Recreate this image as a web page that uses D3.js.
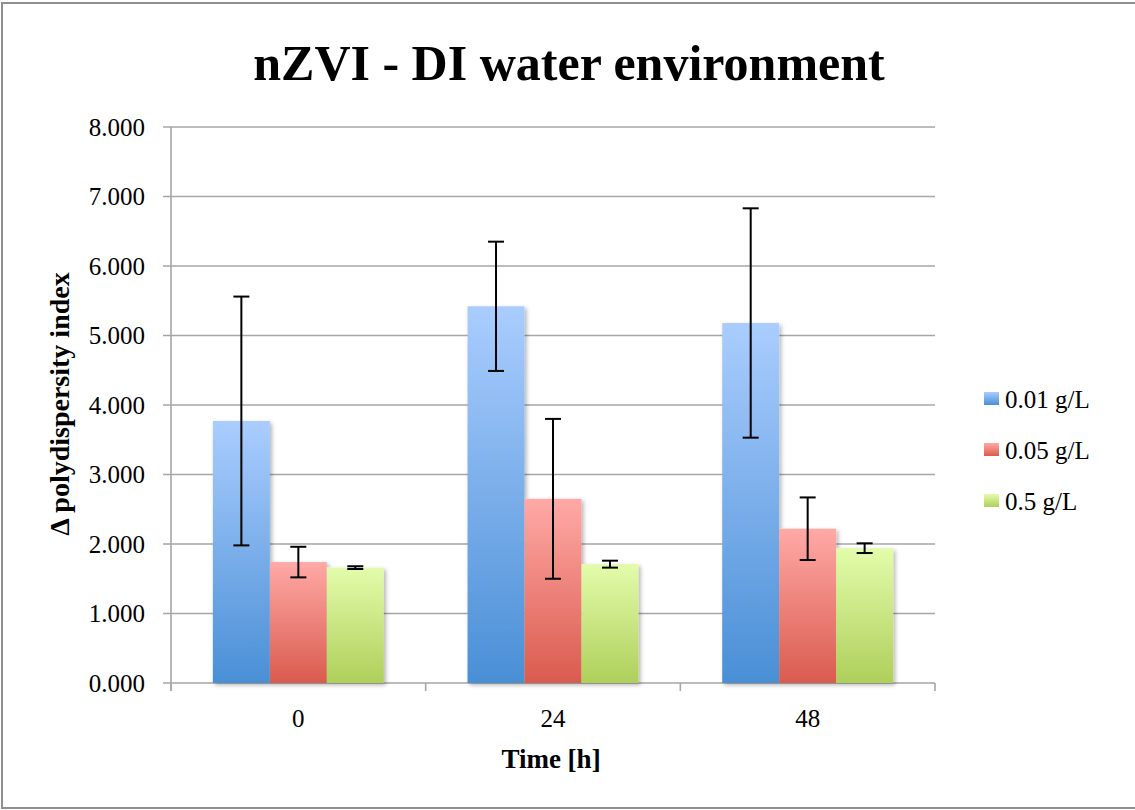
<!DOCTYPE html>
<html><head><meta charset="utf-8">
<script src="https://cdn.jsdelivr.net/npm/d3@7"></script>
<style>body{margin:0;background:#fff}svg{display:block}</style>
</head><body>
<svg id="chart" width="1135" height="810"></svg>
<script>
const categories = ["0", "24", "48"];
const seriesNames = ["0.01 g/L", "0.05 g/L", "0.5 g/L"];
const values01 = [3.77, 5.42, 5.18];
const values05 = [1.74, 2.65, 2.22];
const values5  = [1.66, 1.71, 1.94];
const err01 = [1.79, 0.93, 1.65];
const err05 = [0.22, 1.15, 0.45];
const err5  = [0.02, 0.05, 0.07];
const yTicks = [0, 1, 2, 3, 4, 5, 6, 7, 8];
const title = "nZVI - DI water environment";
const xTitle = "Time [h]";
const yTitle = "Δ polydispersity index";

(function () {
const seriesValues = [values01, values05, values5];
const seriesErrors = [err01, err05, err5];
const grads = [["#aacdfe", "#4a8fd6"], ["#ffa9a6", "#da5b4e"], ["#e3fcab", "#afcf5b"]];

const svg = d3.select("#chart");
const defs = svg.append("defs");
grads.forEach((g, i) => {
  const lg = defs.append("linearGradient").attr("id", "g" + i)
    .attr("x1", 0).attr("y1", 0).attr("x2", 0).attr("y2", 1);
  lg.append("stop").attr("offset", "0%").attr("stop-color", g[0]);
  lg.append("stop").attr("offset", "100%").attr("stop-color", g[1]);
});
const f = defs.append("filter").attr("id", "sh").attr("x", "-10%").attr("y", "-10%").attr("width", "130%").attr("height", "130%");
f.append("feDropShadow").attr("dx", 2).attr("dy", 2).attr("stdDeviation", 2).attr("flood-color", "#000").attr("flood-opacity", 0.3);

// outer border
svg.append("rect").attr("x", 2).attr("y", 3).attr("width", 1140).attr("height", 805)
  .attr("fill", "none").attr("stroke", "#8f8f8f").attr("stroke-width", 2);

const pLeft = 171, pRight = 935, pTop = 127, pBottom = 683;
const y = d3.scaleLinear().domain([0, 8]).range([pBottom, pTop]);
const x = d3.scaleBand().domain(categories).range([pLeft, pRight]).paddingInner(0).paddingOuter(0);
const xs = d3.scaleBand().domain(seriesNames).range([0, x.bandwidth()]).paddingInner(0).paddingOuter(0.735);

const serif = "'Liberation Serif', 'Times New Roman', serif";

// gridlines
svg.append("g").selectAll("line").data(yTicks).join("line")
  .attr("x1", pLeft - 8).attr("x2", pRight)
  .attr("y1", d => y(d)).attr("y2", d => y(d))
  .attr("stroke", "#a6a6a6").attr("stroke-width", 1.6);

// y axis line
svg.append("line").attr("x1", pLeft).attr("x2", pLeft).attr("y1", pTop).attr("y2", pBottom + 8)
  .attr("stroke", "#a6a6a6").attr("stroke-width", 1.6);
// x ticks
const xTickPos = categories.map(c => x(c)).concat([pRight]);
svg.append("g").selectAll("line").data(xTickPos).join("line")
  .attr("x1", d => d).attr("x2", d => d).attr("y1", pBottom).attr("y2", pBottom + 8)
  .attr("stroke", "#a6a6a6").attr("stroke-width", 1.6);

// y tick labels
svg.append("g").selectAll("text").data(yTicks).join("text")
  .attr("x", 145).attr("y", d => y(d)).attr("dy", "0.35em")
  .attr("text-anchor", "end").attr("font-family", serif).attr("font-size", 25)
  .attr("fill", "#000").text(d => d3.format(".3f")(d));

// bars
const barsG = svg.append("g").attr("filter", "url(#sh)");
categories.forEach((c, ci) => {
  seriesNames.forEach((s, si) => {
    const v = seriesValues[si][ci];
    barsG.append("rect")
      .attr("x", x(c) + xs(s)).attr("width", xs.bandwidth())
      .attr("y", y(v)).attr("height", y(0) - y(v))
      .attr("fill", `url(#g${si})`);
  });
});
// error bars
const eg = svg.append("g").attr("stroke", "#000").attr("stroke-width", 2);
categories.forEach((c, ci) => {
  seriesNames.forEach((s, si) => {
    const v = seriesValues[si][ci], e = seriesErrors[si][ci];
    const cx = x(c) + xs(s) + xs.bandwidth() / 2;
    eg.append("line").attr("x1", cx).attr("x2", cx).attr("y1", y(v + e)).attr("y2", y(v - e));
    [v + e, v - e].forEach(t => eg.append("line").attr("x1", cx - 8).attr("x2", cx + 8).attr("y1", y(t)).attr("y2", y(t)));
  });
});

// category labels
svg.append("g").selectAll("text").data(categories).join("text")
  .attr("x", d => x(d) + x.bandwidth() / 2).attr("y", 727)
  .attr("text-anchor", "middle").attr("font-family", serif).attr("font-size", 25)
  .text(d => d);

// title
svg.append("text").attr("x", 569).attr("y", 80).attr("text-anchor", "middle")
  .attr("font-family", serif).attr("font-weight", "bold").attr("font-size", 50).text(title);
// x title
svg.append("text").attr("x", 551).attr("y", 768).attr("text-anchor", "middle")
  .attr("font-family", serif).attr("font-weight", "bold").attr("font-size", 27).text(xTitle);
// y title
svg.append("text").attr("transform", "translate(69,404) rotate(-90)").attr("text-anchor", "middle")
  .attr("font-family", serif).attr("font-weight", "bold").attr("font-size", 28).text(yTitle);

// legend
const lgG = svg.append("g");
seriesNames.forEach((s, i) => {
  const cy = 399 + i * 51;
  lgG.append("rect").attr("x", 984).attr("y", cy - 7).attr("width", 15).attr("height", 13).attr("fill", `url(#g${i})`);
  lgG.append("text").attr("x", 1005).attr("y", cy).attr("dy", "0.35em")
    .attr("font-family", serif).attr("font-size", 25).text(s);
});
})();
</script>
</body></html>
